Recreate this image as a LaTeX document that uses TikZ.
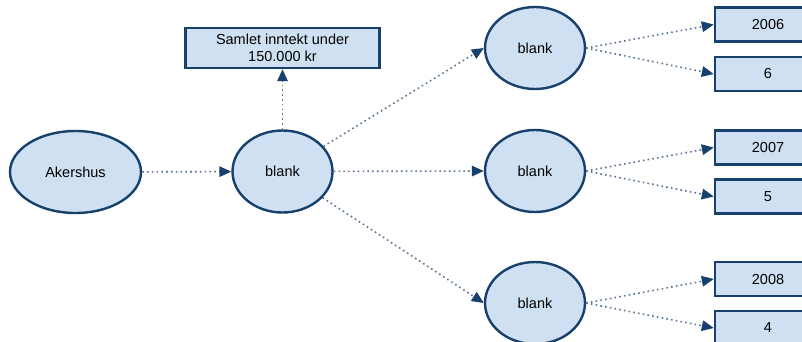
\documentclass[tikz,border=0pt]{standalone}
\usepackage{fontspec}
\setmainfont{Liberation Sans}
\usetikzlibrary{arrows.meta,shapes.geometric}
\definecolor{nodefill}{HTML}{CFE0F2}
\definecolor{nodeline}{HTML}{17406D}
\definecolor{linkline}{HTML}{5A7594}
\tikzset{
  x=1pt, y=-1pt,
  oval/.style={ellipse, draw=nodeline, fill=nodefill, line width=2.4pt,
    minimum width=#1, minimum height=82pt, inner sep=0pt, font=\fontsize{14.5}{17}\selectfont},
  oval/.default=100pt,
  box/.style={rectangle, draw=nodeline, fill=nodefill, line width=2.4pt,
    inner sep=0pt, font=\fontsize{14.5}{17}\selectfont, align=center},
  link/.style={draw=linkline, line width=1.6pt, dash pattern=on 1.6pt off 3.2pt,
    -{Triangle[length=12pt,width=10.5pt,color=nodeline]}},
}
\begin{document}
\begin{tikzpicture}
\useasboundingbox (0,0) rectangle (802,341);
\clip (0,0) rectangle (802,341);

% ellipses
\node[oval=131pt] (ak) at (75.5,172) {Akershus};
\node[oval] (mid) at (282.5,171.5) {blank};
\node[oval] (r1) at (535,48) {blank};
\node[oval] (r2) at (535,171) {blank};
\node[oval] (r3) at (535,303) {blank};

% boxes
\node[box, minimum width=194pt, minimum height=40pt] (top) at (282.5,48) {Samlet inntekt under\\150.000 kr};
\node[box, minimum width=106pt, minimum height=34pt] (y1) at (768,24.5) {2006};
\node[box, minimum width=106pt, minimum height=34pt] (v1) at (768,74) {6};
\node[box, minimum width=106pt, minimum height=34pt] (y2) at (768,147.5) {2007};
\node[box, minimum width=106pt, minimum height=34pt] (v2) at (768,196.5) {5};
\node[box, minimum width=106pt, minimum height=34pt] (y3) at (768,279) {2008};
\node[box, minimum width=106pt, minimum height=34pt] (v3) at (768,328) {4};

% connectors
\draw[link] (ak) -- (mid);
\draw[link] (mid) -- (top);
\draw[link] (mid) -- (r1.west);
\draw[link] (mid) -- (r2.west);
\draw[link] (mid) -- (r3.west);
\draw[link] (r1.east) -- (y1.west);
\draw[link] (r1.east) -- (v1.west);
\draw[link] (r2.east) -- (y2.west);
\draw[link] (r2.east) -- (v2.west);
\draw[link] (r3.east) -- (y3.west);
\draw[link] (r3.east) -- (v3.west);
\end{tikzpicture}
\end{document}
